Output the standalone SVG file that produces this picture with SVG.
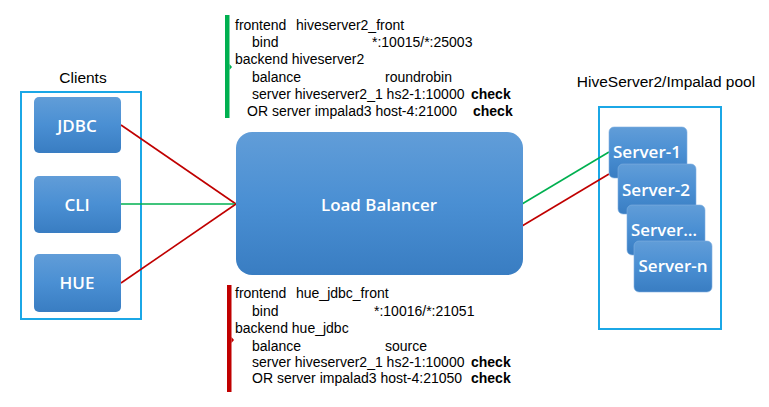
<svg xmlns="http://www.w3.org/2000/svg" width="769" height="407" viewBox="0 0 769 407">
<defs>
<linearGradient id="blue" x1="0" y1="0" x2="0" y2="1">
<stop offset="0" stop-color="#619dd8"/>
<stop offset="0.5" stop-color="#4a8fd3"/>
<stop offset="1" stop-color="#397dc2"/>
</linearGradient>
<style>
.node{fill:url(#blue);}
.srv{fill:url(#blue);stroke:#7fb0e0;stroke-width:0.6;}
.nt{font-family:"Open Sans","Noto Sans",sans-serif;fill:#ffffff;font-weight:600;text-anchor:middle;}
.frame{fill:none;stroke:#1ba7e6;stroke-width:2;}
.title{font-family:"Liberation Sans",Arial,sans-serif;font-size:15.5px;fill:#000;}
.cfg{font-family:"Liberation Sans",Arial,sans-serif;font-size:14px;fill:#000;}
.b{font-weight:bold;}
.red{stroke:#c00000;stroke-width:1.6;fill:none;}
.green{stroke:#00b050;stroke-width:1.6;fill:none;}
</style>
</defs>
<rect width="769" height="407" fill="#ffffff"/>

<g id="clients-group">
<rect class="frame" x="21" y="92" width="120" height="227"/>
<text class="title" x="83" y="83" text-anchor="middle">Clients</text>
</g>

<g id="pool-group">
<rect class="frame" x="599" y="107" width="122" height="222"/>
<text class="title" x="666" y="87" text-anchor="middle">HiveServer2/Impalad pool</text>
</g>

<g id="connectors">
<line class="red" x1="121" y1="125" x2="236" y2="204"/>
<line class="green" x1="121" y1="204" x2="236" y2="204"/>
<line class="red" x1="121" y1="283" x2="236" y2="204"/>
<line class="green" x1="522" y1="204" x2="609" y2="152"/>
<line class="red" x1="522" y1="226" x2="609" y2="174"/>
</g>

<g id="jdbc">
<rect class="node" x="34" y="97" width="87" height="56" rx="5"/>
<text class="nt" x="77" y="132" font-size="17">JDBC</text>
</g>
<g id="cli">
<rect class="node" x="34" y="176" width="87" height="57" rx="5"/>
<text class="nt" x="77" y="211" font-size="17">CLI</text>
</g>
<g id="hue">
<rect class="node" x="34" y="254" width="87" height="58" rx="5"/>
<text class="nt" x="77" y="289" font-size="17">HUE</text>
</g>

<g id="load-balancer">
<rect class="node" x="236" y="132" width="287" height="143" rx="16"/>
<text class="nt" x="379" y="211" font-size="17" textLength="116" lengthAdjust="spacingAndGlyphs">Load Balancer</text>
</g>

<g id="server-1">
<rect class="srv" x="609" y="127" width="78" height="51" rx="5"/>
<text class="nt" x="647" y="158" font-size="16" textLength="68" lengthAdjust="spacingAndGlyphs">Server-1</text>
</g>
<g id="server-2">
<rect class="srv" x="618" y="164" width="78" height="50" rx="5"/>
<text class="nt" x="656" y="196" font-size="16" textLength="68" lengthAdjust="spacingAndGlyphs">Server-2</text>
</g>
<g id="server-dots">
<rect class="srv" x="627" y="205" width="78" height="50" rx="5"/>
<text class="nt" x="664" y="236" font-size="16" textLength="66" lengthAdjust="spacingAndGlyphs">Server…</text>
</g>
<g id="server-n">
<rect class="srv" x="634" y="241" width="78" height="51" rx="5"/>
<text class="nt" x="673" y="272" font-size="16" textLength="69" lengthAdjust="spacingAndGlyphs">Server-n</text>
</g>

<g id="config-top">
<rect x="225" y="15" width="4.5" height="103" fill="#00b050"/>
<polygon points="229.5,64 232,67 229.5,70" fill="#00b050"/>
<text class="cfg" x="235" y="30">frontend</text>
<text class="cfg" x="296" y="30">hiveserver2_front</text>
<text class="cfg" x="252" y="47">bind</text>
<text class="cfg" x="372" y="47">*:10015/*:25003</text>
<text class="cfg" x="235" y="64">backend hiveserver2</text>
<text class="cfg" x="252" y="82">balance</text>
<text class="cfg" x="385" y="82">roundrobin</text>
<text class="cfg" x="252" y="99">server hiveserver2_1 hs2-1:10000</text>
<text class="cfg b" x="471" y="99">check</text>
<text class="cfg" x="247" y="116">OR server impalad3 host-4:21000</text>
<text class="cfg b" x="473" y="116">check</text>
</g>

<g id="config-bottom">
<rect x="227" y="285" width="4.5" height="107" fill="#c00000"/>
<polygon points="231.5,337 234,340 231.5,343" fill="#c00000"/>
<text class="cfg" x="235" y="298">frontend</text>
<text class="cfg" x="296" y="298">hue_jdbc_front</text>
<text class="cfg" x="252" y="316">bind</text>
<text class="cfg" x="374" y="316">*:10016/*:21051</text>
<text class="cfg" x="235" y="333">backend hue_jdbc</text>
<text class="cfg" x="252" y="351">balance</text>
<text class="cfg" x="385" y="351">source</text>
<text class="cfg" x="252" y="367">server hiveserver2_1 hs2-1:10000</text>
<text class="cfg b" x="471" y="367">check</text>
<text class="cfg" x="252" y="383">OR server impalad3 host-4:21050</text>
<text class="cfg b" x="471" y="383">check</text>
</g>
</svg>
